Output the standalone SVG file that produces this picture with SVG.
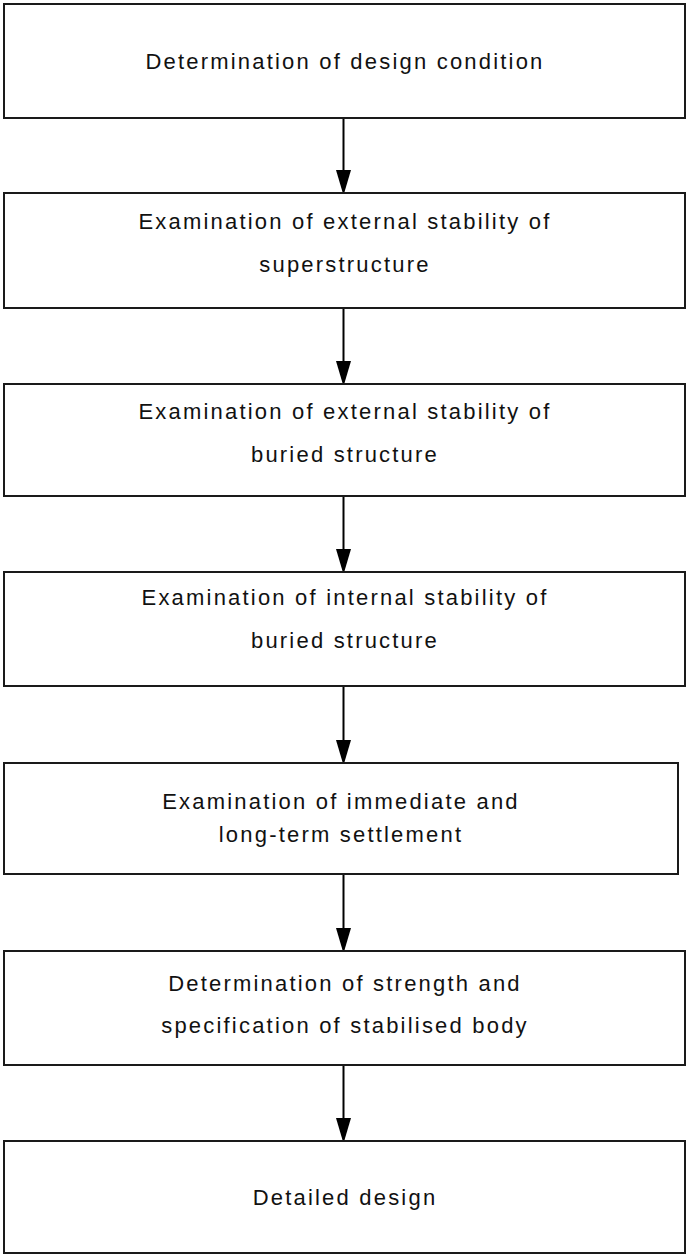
<svg xmlns="http://www.w3.org/2000/svg" width="686" height="1254" viewBox="0 0 686 1254">
<style>
.box{fill:#fff;stroke:#1a1a1a;stroke-width:2}
.lbl{font-family:"Liberation Sans",Arial,sans-serif;font-size:22px;letter-spacing:2.2px;fill:#111;text-anchor:middle}
.conn{stroke:#000;stroke-width:2;fill:none}
</style>
<defs>
<marker id="arr" markerUnits="userSpaceOnUse" markerWidth="22" markerHeight="16" refX="12" refY="8" orient="auto" viewBox="0 0 22 16">
<path d="M0,0.5 L22,7 L22,9 L0,15.5 Z" fill="#000"/>
</marker>
</defs>
<rect width="686" height="1254" fill="#fff"/>
<g id="connectors">
<path class="conn" d="M343.5,118 V182" marker-end="url(#arr)"/>
<path class="conn" d="M343.5,308 V373" marker-end="url(#arr)"/>
<path class="conn" d="M343.5,496 V561" marker-end="url(#arr)"/>
<path class="conn" d="M343.5,686 V752" marker-end="url(#arr)"/>
<path class="conn" d="M343.5,874 V940" marker-end="url(#arr)"/>
<path class="conn" d="M343.5,1065 V1130" marker-end="url(#arr)"/>
</g>
<g id="n1">
<rect class="box" x="4" y="4" width="681" height="114"/>
<text class="lbl" x="345" y="69">Determination of design condition</text>
</g>
<g id="n2">
<rect class="box" x="4" y="193" width="681" height="115"/>
<text class="lbl" x="345" y="229">Examination of external stability of</text>
<text class="lbl" x="345" y="272">superstructure</text>
</g>
<g id="n3">
<rect class="box" x="4" y="384" width="681" height="112"/>
<text class="lbl" x="345" y="419">Examination of external stability of</text>
<text class="lbl" x="345" y="462">buried structure</text>
</g>
<g id="n4">
<rect class="box" x="4" y="572" width="681" height="114"/>
<text class="lbl" x="345" y="605">Examination of internal stability of</text>
<text class="lbl" x="345" y="648">buried structure</text>
</g>
<g id="n5">
<rect class="box" x="4" y="763" width="674" height="111"/>
<text class="lbl" x="341" y="809">Examination of immediate and</text>
<text class="lbl" x="341" y="842">long-term settlement</text>
</g>
<g id="n6">
<rect class="box" x="4" y="951" width="681" height="114"/>
<text class="lbl" x="345" y="991">Determination of strength and</text>
<text class="lbl" x="345" y="1033">specification of stabilised body</text>
</g>
<g id="n7">
<rect class="box" x="4" y="1141" width="681" height="112"/>
<text class="lbl" x="345" y="1205">Detailed design</text>
</g>
</svg>
